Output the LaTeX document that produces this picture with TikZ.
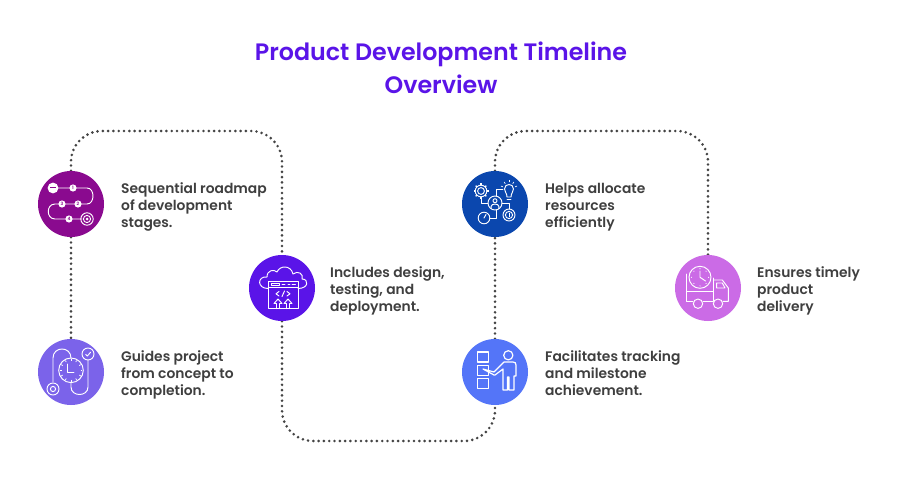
\documentclass[tikz,border=0pt]{standalone}
\usepackage{fontspec}
\setmainfont{Poppins}[BoldFont={Poppins SemiBold}]
\usetikzlibrary{calc}
\definecolor{ink}{HTML}{3F3F3F}
\definecolor{dotc}{HTML}{444444}
\definecolor{cA}{HTML}{8A0A8F}
\definecolor{cB}{HTML}{7B63EA}
\definecolor{cC}{HTML}{5A14E8}
\definecolor{cD}{HTML}{0B47AE}
\definecolor{cE}{HTML}{5475F8}
\definecolor{cF}{HTML}{CB6BE6}
\tikzset{
  x=1pt,y=-1pt,
  stage/.style={circle,minimum size=66pt,inner sep=0pt,draw=none},
  blurb/.style={anchor=west,align=left,inner sep=0pt,text=ink,font=\fontsize{13.85}{17}\selectfont\bfseries},
  headline/.style={align=center,inner sep=0pt,text=cC,font=\fontsize{23.75}{33}\selectfont\bfseries},
  trail/.style={draw=dotc,line width=2.9pt,line cap=round,dash pattern=on 0pt off 5.3pt,rounded corners=31pt},
  ic/.style={draw=white,line width=0.95pt,line cap=round,line join=round,fill=none},
  num/.style={inner sep=0pt,font=\fontsize{4.5}{5}\selectfont\bfseries}
}
\begin{document}
\begin{tikzpicture}
\useasboundingbox (0,0) rectangle (900,500);
\fill[white] (0,0) rectangle (900,500);

\node[headline] (title) at (441,67.5) {Product Development Timeline\\Overview};

\coordinate (ta) at (71,131);
\coordinate (tb) at (282,131);
\coordinate (tc) at (282,441);
\coordinate (td) at (495,441);
\coordinate (te) at (495,131);
\coordinate (tf) at (708,131);

\node[stage] (s1) at (71,204) {};
\node[stage] (s2) at (71,372) {};
\node[stage] (s3) at (282,288) {};
\node[stage] (s4) at (495,204) {};
\node[stage] (s5) at (495,372) {};
\node[stage] (s6) at (708,288) {};

% dotted route behind the discs
\draw[trail] (s1.north) -- (ta) -- (tb) -- (s3.north);
\draw[trail] (s1.south) -- (s2.north);
\draw[trail] (s3.south) -- (tc) -- (td) -- (s5.south);
\draw[trail] (s5.north) -- (s4.south);
\draw[trail] (s4.north) -- (te) -- (tf) -- (s6.north);

\fill[cA] (s1) circle (33);
\fill[cB] (s2) circle (33);
\fill[cC] (s3) circle (33);
\fill[cD] (s4) circle (33);
\fill[cE] (s5) circle (33);
\fill[cF] (s6) circle (33);

% roadmap icon
\begin{scope}[shift={(s1)}]
  \draw[ic] (-18,-16) -- (16,-16) .. controls (24,-16) and (24,0) .. (16,0) -- (-16,0)
     .. controls (-25,0) and (-25,15) .. (-16,15) -- (11,15);
  \fill[white] (-18,-16) circle (5.4);
  \draw[cA,line width=1pt] (-21,-16) -- (-15,-16);
  \foreach \px/\py/\lb in {2/-16/1,7/0/2,-9/0/3,-2/15/4}{
    \fill[white] (\px,\py) circle (3.6);
    \node[num,text=cA] at (\px,\py) {\lb};
  }
  \draw[ic] (16,15) circle (6.2) (16,15) circle (3.6);
  \fill[white] (16,15) circle (1.5);
\end{scope}

% clock on a winding route
\begin{scope}[shift={(s2)}]
  \draw[ic] (-18,10) -- (-18,-14) .. controls (-18,-26) and (0,-26) .. (0,-14);
  \draw[ic] (0,10) -- (0,15) .. controls (0,25) and (17,25) .. (17,15) -- (17,-12);
  \draw[ic] (0,-1.7) circle (12.3);
  \foreach \a in {0,30,...,330}{
    \draw[white,line width=0.7pt] ($(0,-1.7)+(\a:9.5)$) -- ($(0,-1.7)+(\a:11.3)$);
  }
  \draw[ic] (-3.5,-8) -- (-3.5,0) -- (3,0);
  \draw[ic] (-18,17) circle (6) (-18,17) circle (2.6);
  \draw[ic] (17,-18) circle (6);
  \draw[ic] (14.7,-17.6) -- (16.4,-16) -- (19.6,-19.8);
\end{scope}

% cloud and code window
\begin{scope}[shift={(s3)}]
  \draw[ic] (-14,0.5) .. controls (-25,0.5) and (-25,-12) .. (-15,-11)
     .. controls (-15,-18) and (-8,-19) .. (-5,-16)
     .. controls (-2,-23) and (9,-23) .. (11,-14)
     .. controls (16,-18) and (22,-14) .. (20,-9)
     .. controls (27,-9) and (27,0.5) .. (16,0.5);
  \draw[ic] (-13.7,-6.7) rectangle (16.3,20.7);
  \draw[ic] (-13.7,-0.7) -- (16.3,-0.7);
  \draw[ic] (-10.5,-5) rectangle (-3,-2.5);
  \draw[ic] (0,-3.7) -- (3,-3.7) (6,-3.7) -- (8,-3.7) (10,-3.7) -- (13.5,-3.7);
  \draw[ic] (-3,3.5) -- (-6,5.8) -- (-3,8) (5,3.5) -- (8,5.8) -- (5,8) (2.5,3) -- (0,8.5);
  \foreach \ax in {-4,6}{
    \draw[ic] (\ax-1.5,20.7) -- (\ax-1.5,15.5) -- (\ax-4,15.5) -- (\ax,11) -- (\ax+4,15.5) -- (\ax+1.5,15.5) -- (\ax+1.5,20.7);
  }
\end{scope}

% resources: person linked to gear, bulb, gauge and coin
\begin{scope}[shift={(s4)}]
  \draw[ic] (0,-1) circle (7);
  \draw[ic] (0,-3.3) circle (2);
  \draw[ic] (-3.8,4.5) -- (-3.8,2.2) .. controls (-3.8,-0.6) and (3.8,-0.6) .. (3.8,2.2) -- (3.8,4.5);
  \draw[ic] (-14,-13) circle (3.4);
  \draw[ic] (-14,-13) circle (5.8);
  \foreach \a in {0,45,...,315}{
    \draw[white,line width=1.3pt] ($(-14,-13)+(\a:5.8)$) -- ($(-14,-13)+(\a:7.5)$);
  }
  \draw[ic] (-14,-6) -- (-14,-1) -- (-7,-1);
  \draw[ic] (8,-15) -- (1,-15) -- (1,-8);
  \draw[ic] (12,-7) .. controls (12,-11) and (9.5,-12) .. (9.5,-15)
     .. controls (9.5,-21) and (18.5,-21) .. (18.5,-15) .. controls (18.5,-12) and (16,-11) .. (16,-7) -- cycle;
  \draw[ic] (12,-5) -- (16,-5);
  \foreach \a in {-160,-125,-90,-55,-20}{
    \draw[white,line width=0.7pt] ($(14,-15)+(\a:6.5)$) -- ($(14,-15)+(\a:8.5)$);
  }
  \draw[ic] (-11,14) circle (5.8);
  \draw[ic] (-11,14) -- (-9,10.5);
  \draw[ic] (-5,14) -- (1,14) -- (1,6);
  \draw[ic] (7,-1) -- (14,-1) -- (14,5);
  \draw[ic] (14,11) circle (6) (14,11) circle (3.6);
  \draw[white,line width=0.8pt] (14,9.3) -- (14,12.7);
\end{scope}

% checklist presenter
\begin{scope}[shift={(s5)}]
  \draw[ic,line width=1.2pt] (-17.7,-20) rectangle (-6.7,-10);
  \draw[ic,line width=1.2pt] (-17.7,-6.7) rectangle (-6.7,3.3);
  \draw[ic,line width=1.2pt] (-17.7,6.7) rectangle (-6.7,16.7);
  \draw[ic,line width=1.2pt] (13.3,-16.7) circle (4.6);
  \draw[ic,line width=1.2pt] (-12,-3) -- (-1,0) -- (9,-10) -- (18,-10)
     .. controls (20,-10) and (21,-9) .. (21,-7) -- (21,4) -- (19,4) -- (19,18)
     -- (14,18) -- (14,5) -- (12.5,5) -- (12.5,18) -- (8,18) -- (8,-3) -- (0,3) -- (-1,3) -- cycle;
\end{scope}

% delivery truck with clock
\begin{scope}[shift={(s6)}]
  \fill[cF] (-8,-10.7) circle (11);
  \draw[ic] (-8,-10.7) circle (11);
  \foreach \a in {0,90,180,270,45,135,225,315}{
    \fill[white] ($(-8,-10.7)+(\a:8.6)$) circle (0.6);
  }
  \draw[ic] (-8,-17) -- (-8,-10.7) -- (-2.5,-7);
  \draw[ic] (-21.3,-14) -- (-21.3,13.3) -- (-15,13.3) (-5,13.3) -- (5,13.3);
  \draw[ic] (-21.3,3.3) -- (5.3,3.3);
  \draw[ic] (5.3,-10) -- (5.3,13.3);
  \draw[ic] (5.3,-8) -- (14.3,-8) -- (20.3,0) -- (20.3,13.3) -- (15,13.3);
  \draw[ic] (8.7,-5) -- (14.3,-5) -- (17,0) -- (8.7,0) -- cycle;
  \draw[ic] (-10,15.7) circle (4.7) (10,15.7) circle (4.7);
\end{scope}

\node[blurb] (b1) at (121,206.5) {Sequential roadmap\\of development\\stages.};
\node[blurb] (b2) at (121,374.5) {Guides project\\from concept to\\completion.};
\node[blurb] (b3) at (330,290.5) {Includes design,\\testing, and\\deployment.};
\node[blurb] (b4) at (545,207.5) {Helps allocate\\resources\\efficiently};
\node[blurb] (b5) at (545,373.5) {Facilitates tracking\\and milestone\\achievement.};
\node[blurb] (b6) at (757,290.5) {Ensures timely\\product\\delivery};
\end{tikzpicture}
\end{document}
